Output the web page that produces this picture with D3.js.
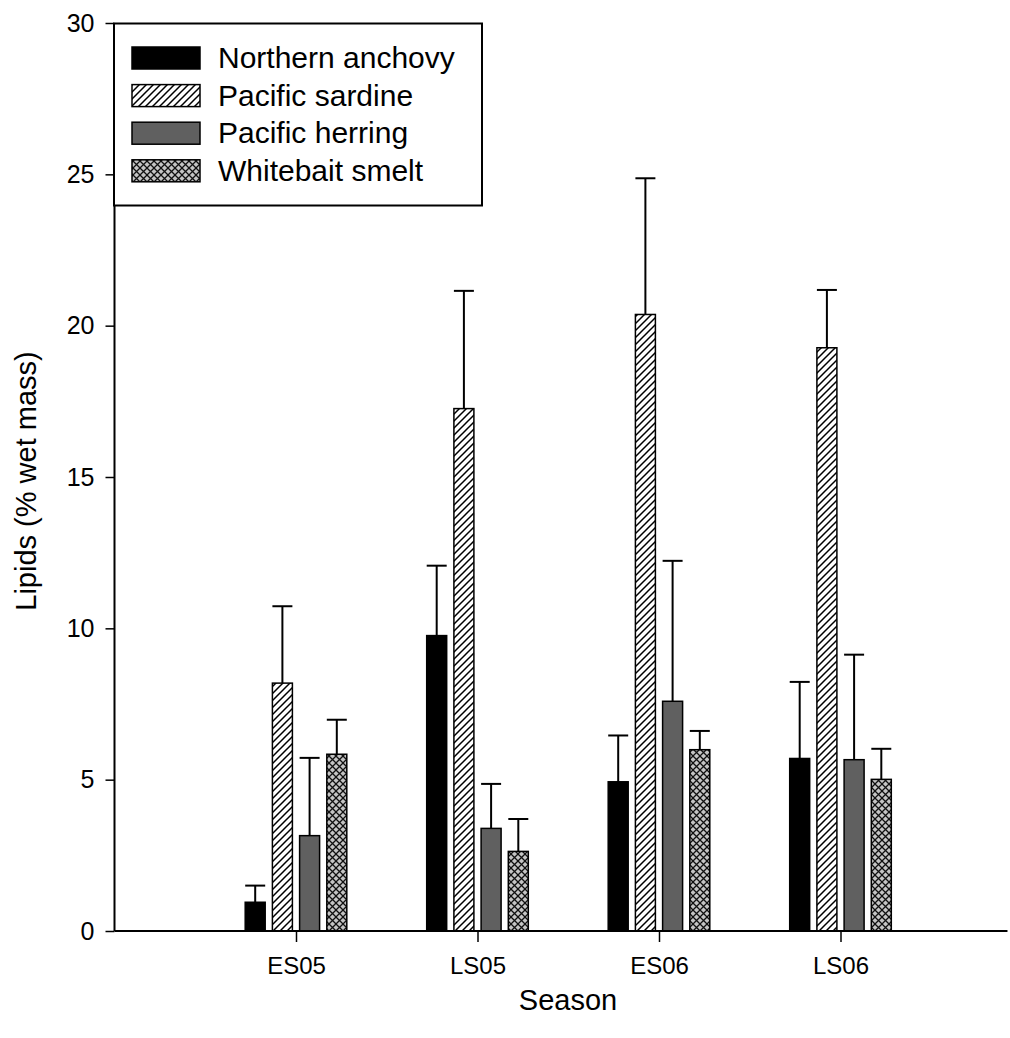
<!DOCTYPE html>
<html><head><meta charset="utf-8">
<script src="https://cdn.jsdelivr.net/npm/d3@7/dist/d3.min.js"></script>
<style>body{margin:0;background:#fff}svg{display:block}text{font-family:"Liberation Sans",Arial,sans-serif;fill:#000}</style>
</head><body>
<script>
const categories = ["ES05", "LS05", "ES06", "LS06"];
const seriesNames = ["Northern anchovy", "Pacific sardine", "Pacific herring", "Whitebait smelt"];
const anchovy = [0.95, 9.76, 4.93, 5.70];
const anchovyErr = [1.50, 12.07, 6.46, 8.23];
const sardine = [8.19, 17.26, 20.37, 19.27];
const sardineErr = [10.73, 21.15, 24.87, 21.18];
const herring = [3.15, 3.39, 7.59, 5.66];
const herringErr = [5.72, 4.86, 12.23, 9.13];
const smelt = [5.84, 2.63, 5.99, 5.01];
const smeltErr = [6.98, 3.70, 6.61, 6.02];
const yTicks = [0, 5, 10, 15, 20, 25, 30];

const values = [anchovy, sardine, herring, smelt];
const errTops = [anchovyErr, sardineErr, herringErr, smeltErr];
const fills = ["#000000", "url(#hatch)", "#606060", "url(#cross)"];

const W = 1010, H = 1038;
const svg = d3.select("body").append("svg").attr("width", W).attr("height", H);
const defs = svg.append("defs");
const h = defs.append("pattern").attr("id", "hatch").attr("patternUnits", "userSpaceOnUse")
  .attr("width", 7).attr("height", 7);
h.append("rect").attr("width", 7).attr("height", 7).attr("fill", "#fff");
h.append("path").attr("d", "M-1,1 l2,-2 M0,7 l7,-7 M6,8 l2,-2").attr("stroke", "#000").attr("stroke-width", 1.5);
const c = defs.append("pattern").attr("id", "cross").attr("patternUnits", "userSpaceOnUse")
  .attr("width", 7).attr("height", 7);
c.append("rect").attr("width", 7).attr("height", 7).attr("fill", "#c4c4c4");
c.append("path").attr("d", "M0,0 L7,7 M0,7 L7,0").attr("stroke", "#111").attr("stroke-width", 1.3);

const x0 = 114.5, step = 181.5;
const x = d3.scaleLinear().domain([0, 4.92]).range([x0, x0 + 4.92 * step]);
const y = d3.scaleLinear().domain([0, 30]).range([931, 23]);
const sub = d3.scaleBand().domain(d3.range(4)).range([-50.8, 50.8]).paddingInner(0.265).paddingOuter(0);

// bars
const g = svg.append("g");
categories.forEach((cat, i) => {
  const cx = x(i + 1);
  values.forEach((arr, s) => {
    const bx = cx + sub(s);
    const bw = sub.bandwidth();
    const top = y(arr[i]);
    const et = y(errTops[s][i]);
    g.append("line").attr("x1", bx + bw / 2).attr("x2", bx + bw / 2).attr("y1", top).attr("y2", et)
      .attr("stroke", "#000").attr("stroke-width", 2);
    g.append("line").attr("x1", bx).attr("x2", bx + bw).attr("y1", et).attr("y2", et)
      .attr("stroke", "#000").attr("stroke-width", 2);
    g.append("rect").attr("x", bx).attr("y", top).attr("width", bw).attr("height", y(0) - top)
      .attr("fill", fills[s]).attr("stroke", "#000").attr("stroke-width", 1.5);
  });
});

// y axis
const ya = svg.append("g").attr("transform", `translate(${x0},0)`)
  .call(d3.axisLeft(y).tickValues(yTicks).tickSize(9).tickPadding(11).tickFormat(d3.format("d")));
ya.select(".domain").attr("stroke-width", 2).attr("d", `M0,${y(0)}V${y(30)}`);
ya.selectAll(".tick line").attr("stroke-width", 1.5);
ya.selectAll("text").attr("font-size", 25).style("font-family", '"Liberation Sans",Arial,sans-serif');

// x axis
const xa = svg.append("g").attr("transform", `translate(0,${y(0)})`)
  .call(d3.axisBottom(x).tickValues([1, 2, 3, 4]).tickSize(11).tickPadding(15)
    .tickFormat(d => categories[d - 1]));
xa.select(".domain").attr("stroke-width", 2).attr("d", `M${x0},0H${x(4.92)}`);
xa.selectAll(".tick line").attr("stroke-width", 1.5);
xa.selectAll("text").attr("font-size", 24).style("font-family", '"Liberation Sans",Arial,sans-serif');

// axis titles
svg.append("text").attr("x", 568).attr("y", 1010).attr("text-anchor", "middle").attr("font-size", 29).text("Season");
svg.append("text").attr("transform", "translate(36,481) rotate(-90)").attr("text-anchor", "middle")
  .attr("font-size", 29).text("Lipids (% wet mass)");

// legend
const lg = svg.append("g");
lg.append("rect").attr("x", 114).attr("y", 23.5).attr("width", 368).attr("height", 182)
  .attr("fill", "#fff").attr("stroke", "#000").attr("stroke-width", 2);
seriesNames.forEach((n, s) => {
  const yy = 47 + s * 37.6;
  lg.append("rect").attr("x", 132).attr("y", yy).attr("width", 68).attr("height", 22)
    .attr("fill", fills[s]).attr("stroke", "#000").attr("stroke-width", 1.5);
  lg.append("text").attr("x", 218).attr("y", yy + 21).attr("font-size", 30).text(n);
});
</script>
</body></html>
